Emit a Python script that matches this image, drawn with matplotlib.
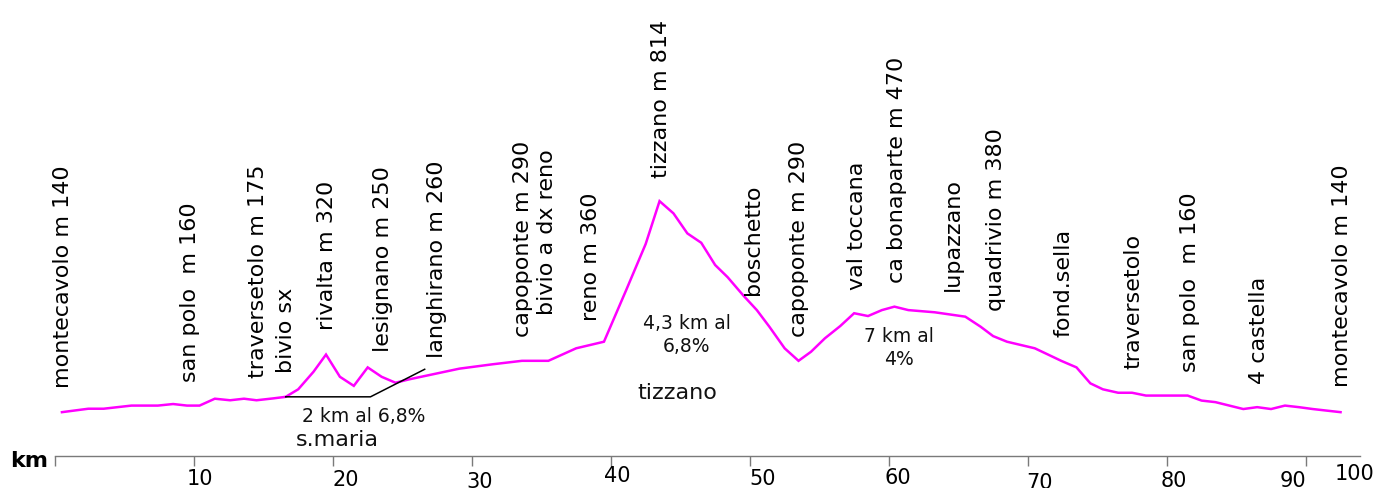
import matplotlib
matplotlib.use("Agg")
import matplotlib.pyplot as plt
from matplotlib.transforms import ScaledTranslation

plt.rcParams['font.family'] = ['DejaVu Sans']

# ---- profile data (km, metres) ----
km = [0.5, 2.4, 3.5, 5.5, 7.4, 8.5, 9.5, 10.4, 11.5, 12.6, 13.6, 14.5, 15.7, 16.6,
      17.5, 18.6, 19.5, 20.5, 21.5, 22.5, 23.5, 24.5, 25.5, 29.1, 31.5, 33.6, 35.5,
      37.5, 39.5, 41.1, 42.5, 43.5, 44.5, 45.5, 46.5, 47.5, 48.4, 49.5, 50.5, 51.4,
      52.5, 53.5, 54.4, 55.4, 56.5, 57.5, 58.5, 59.5, 60.4, 61.4, 63.3, 65.5, 66.6,
      67.5, 68.5, 70.5, 71.5, 72.4, 73.5, 74.5, 75.4, 76.5, 77.5, 78.5, 80.5, 81.5,
      82.5, 83.5, 84.5, 85.5, 86.5, 87.5, 88.5, 89.5, 90.5, 91.5, 92.5]
elev = [140, 151, 151, 161, 161, 166, 161, 161, 183, 178, 183, 178, 184, 189,
        213, 269, 324, 253, 224, 283, 253, 234, 245, 279, 293, 304, 304,
        344, 365, 530, 677, 814, 775, 711, 681, 610, 571, 514, 466, 413,
        344, 304, 333, 376, 415, 456, 447, 466, 477, 466, 459, 445, 413,
        383, 365, 344, 323, 304, 283, 232, 213, 202, 202, 193, 193, 193,
        177, 172, 161, 150, 156, 150, 161, 156, 150, 145, 140]

# gradient marker line (s.maria climb)
climb_km = [16.6, 22.7, 26.6]
climb_elev = [189, 189, 277]

# place names
places = ["montecavolo m 140", "san polo  m 160", "traversetolo m 175", "bivio sx",
          "rivalta m 320", "lesignano m 250", "langhirano m 260", "capoponte m 290",
          "bivio a dx reno", "reno m 360", "tizzano m 814", "boschetto",
          "capoponte m 290", "val toccana", "ca bonaparte m 470", "lupazzano",
          "quadrivio m 380", "fond.sella", "traversetolo", "san polo  m 160",
          "4 castella", "montecavolo m 140"]
place_km = [0.6, 9.7, 14.6, 16.6, 19.6, 23.6, 27.5, 33.7, 35.4, 38.55, 43.6, 50.25,
            53.5, 57.7, 60.6, 64.6, 67.7, 72.6, 77.6, 81.7, 86.6, 92.6]
place_m = [216, 237, 248, 264, 402, 333, 312, 381, 450, 432, 887, 514,
           381, 530, 552, 528, 464, 379, 277, 269, 230, 219]

# notes
notes = ["2 km al 6,8%", "s.maria", "4,3 km al\n6,8%", "tizzano", "7 km al\n4%"]
note_km = [22.2, 20.3, 45.45, 44.75, 60.7]
note_m = [126, 51, 387, 202, 344]
note_size = [13.5, 16, 13.5, 16, 13.5]

# axis ticks
tick_km = [0, 10, 20, 30, 40, 50, 60, 70, 80, 90, 93.9]
tick_labels = ["", "10", "20", "30", "40", "50", "60", "70", "80", "90", "100"]
# per-label pixel offsets (dx, dy) as in the original layout
tick_offsets = [(0, 0), (6, -3.3), (13, -4), (8, -6), (6.5, 0), (13, -2.6), (8.5, -1.6),
                (11.5, -7.3), (6.6, -5), (-13, -5), (-5.5, 1.7)]

W, H = 1381, 488
fig = plt.figure(figsize=(W / 100, H / 100), dpi=100)
x0, x1 = 55, 1360
ybase = 456
ax = fig.add_axes([x0 / W, (H - ybase) / H, (x1 - x0) / W, ybase / H])
ax.set_xlim(0, 93.9)
ax.set_ylim(0, ybase / 0.3131)

ax.plot(km, elev, color='#FF00FF', lw=1.8, solid_joinstyle='miter', clip_on=False)
ax.plot(climb_km, climb_elev, color='black', lw=1.1, clip_on=False)

for name, xk, ym in zip(places, place_km, place_m):
    ax.text(xk, ym, name, rotation=90, ha='center', va='bottom', fontsize=16,
            color='black', clip_on=False)

for t, xk, ym, fs in zip(notes, note_km, note_m, note_size):
    ax.text(xk, ym, t, ha='center', va='center', fontsize=fs, color='#111111',
            linespacing=1.28, multialignment='center', clip_on=False)

fig.text(10 / W, 1 - 466.7 / H, "km", ha='left', va='baseline', fontsize=16,
         fontweight='bold')

for s in ['top', 'right', 'left']:
    ax.spines[s].set_visible(False)
ax.spines['bottom'].set_color('#7a7a7a')
ax.spines['bottom'].set_linewidth(1.0)
ax.set_yticks([])
ax.set_xticks(tick_km)
ax.set_xticklabels(tick_labels)
ax.tick_params(axis='x', direction='out', length=7.2, width=1.0, color='#7a7a7a',
               pad=0, labelsize=15, labelcolor='black')
ticks = ax.xaxis.get_major_ticks()
ticks[-1].tick1line.set_visible(False)
for tk, (dx, dy) in zip(ticks, tick_offsets):
    lab = tk.label1
    lab.set_transform(lab.get_transform() +
                      ScaledTranslation(dx / 100, -dy / 100 * 0 + dy / 100, fig.dpi_scale_trans))

ax.patch.set_visible(False)
fig.savefig("out.png", dpi=100)
